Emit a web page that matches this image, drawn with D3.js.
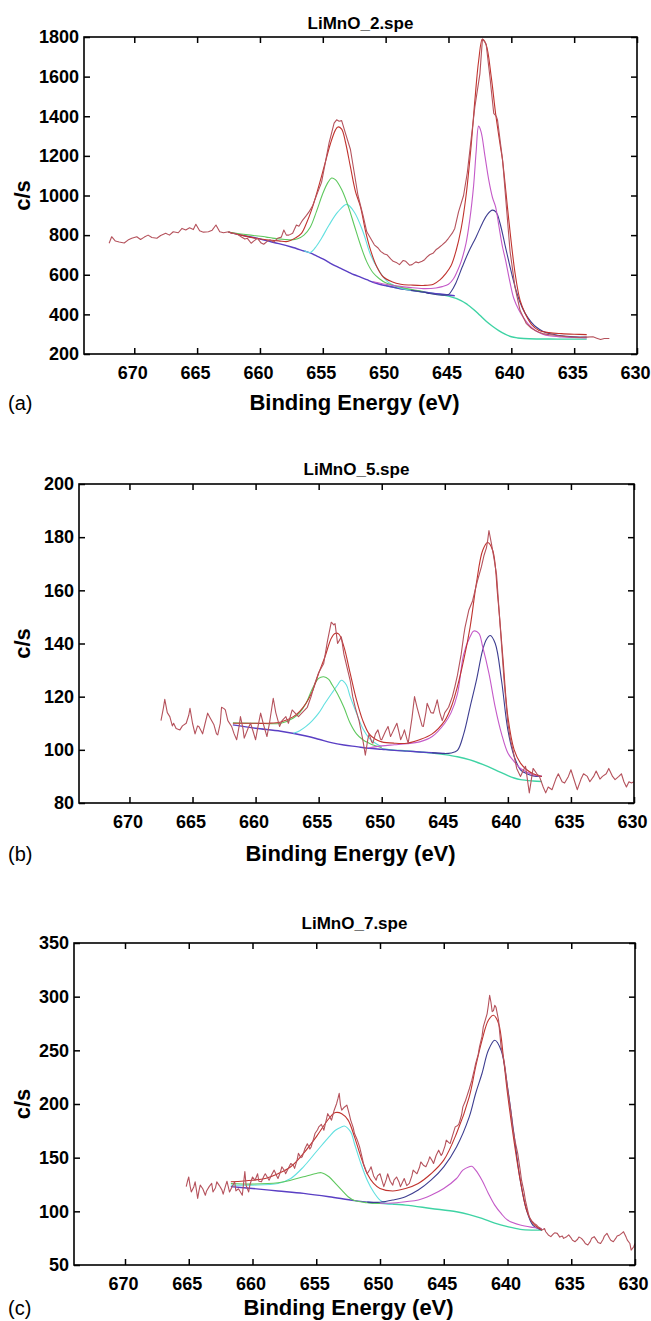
<!DOCTYPE html>
<html>
<head>
<meta charset="utf-8">
<script src="https://cdn.jsdelivr.net/npm/d3@7"></script>
<style>
  html, body { margin: 0; padding: 0; background: #fff; }
  svg { display: block; font-family: "Liberation Sans", Arial, sans-serif; }
</style>
</head>
<body>
<svg id="chart" width="651" height="1321"></svg>
<script>
// ---- data: [binding energy (eV), counts/s] ----

var xTicks = [670, 665, 660, 655, 650, 645, 640, 635, 630];
var yTicksA = [200, 400, 600, 800, 1000, 1200, 1400, 1600, 1800];
var yTicksB = [80, 100, 120, 140, 160, 180, 200];
var yTicksC = [50, 100, 150, 200, 250, 300, 350];

// (a) LiMnO_2
var rawA = [[672.0,759],[671.8,792],[671.5,770],[671.2,765],[670.8,760],[670.5,775],[670.2,784],[669.8,792],[669.5,778],[669.2,790],[668.9,800],[668.6,788],[668.2,784],[667.9,798],[667.5,809],[667.2,800],[666.9,817],[666.5,812],[666.2,834],[665.9,826],[665.6,837],[665.3,828],[665.1,855],[664.8,822],[664.5,815],[664.1,817],[663.8,825],[663.5,851],[663.2,817],[662.9,812],[662.5,817],[662.2,808],[662.0,809],[661.7,800],[661.5,792],[661.2,780],[661.0,784],[660.7,759],[660.5,770],[660.2,784],[659.9,760],[659.7,754],[659.4,770],[659.2,776],[658.9,765],[658.6,784],[658.3,790],[658.1,826],[657.9,800],[657.7,800],[657.4,809],[657.1,851],[656.9,845],[656.6,876],[656.3,900],[656.1,917],[655.8,950],[655.4,1017],[655.1,1066],[654.8,1166],[654.5,1266],[654.1,1365],[653.9,1382],[653.7,1375],[653.5,1378],[653.2,1315],[652.8,1232],[652.5,1116],[652.2,1000],[651.8,900],[651.5,817],[651.2,784],[650.9,751],[650.6,735],[650.4,718],[650.1,705],[649.9,701],[649.6,680],[649.4,668],[649.1,660],[648.9,651],[648.6,672],[648.4,668],[648.1,648],[647.9,651],[647.6,665],[647.4,660],[647.1,668],[646.9,676],[646.7,690],[646.5,701],[646.2,710],[646.0,726],[645.8,735],[645.5,751],[645.2,768],[645.0,784],[644.7,810],[644.5,834],[644.2,917],[643.8,1000],[643.5,1116],[643.2,1282],[642.9,1448],[642.5,1614],[642.3,1788],[642.1,1775],[642.0,1763],[641.7,1597],[641.4,1415],[641.2,1400],[641.1,1382],[640.7,1183],[640.4,950],[640.1,718],[639.7,535],[639.3,419],[638.8,353],[638.4,330],[638.1,319],[637.8,310],[637.5,303],[637.0,298],[636.5,295],[636.0,290],[635.5,287],[635.0,285],[634.5,283],[634.0,285],[633.5,287],[633.2,280],[632.9,273],[632.6,278],[632.2,278]];
var envA = [[662.5,815],[661.5,800],[660.5,786],[659.5,777],[658.5,771],[657.8,768],[657.2,785],[656.7,809],[656.3,860],[655.9,926],[655.4,1030],[654.9,1144],[654.4,1260],[654.0,1330],[653.8,1346],[653.5,1335],[653.2,1270],[652.8,1144],[652.4,1020],[652.0,943],[651.6,820],[651.2,724],[650.7,640],[650.2,590],[649.5,565],[648.8,552],[648.0,548],[647.0,546],[646.2,552],[645.7,573],[645.2,607],[644.8,645],[644.4,720],[644.0,830],[643.6,1000],[643.2,1250],[642.9,1480],[642.6,1680],[642.3,1790],[642.0,1760],[641.6,1600],[641.25,1414],[640.9,1260],[640.7,1178],[640.2,876],[639.7,607],[639.3,470],[638.9,405],[638.4,350],[637.8,319],[637.0,308],[636.0,303],[635.0,300],[634.0,298]];
var bgA = [[662.5,815],[661.5,800],[660.5,788],[659.5,772],[658.5,757],[657.5,740],[656.5,720],[656.0,710],[655.5,695],[655.0,680],[654.5,662],[654.0,645],[653.5,630],[653.0,615],[652.5,600],[652.0,588],[651.5,575],[651.0,562],[650.5,552],[650.0,545],[649.0,532],[648.0,522],[647.0,513],[646.0,505],[645.0,498],[644.5,494]];
var bgLowA = [[650.0,545],[649.0,532],[648.0,522],[647.0,513],[646.0,503],[645.0,492],[644.0,470],[643.5,450],[643.0,425],[642.5,395],[642.0,365],[641.5,340],[641.0,318],[640.5,300],[640.0,287],[639.5,281],[639.0,278],[638.0,276],[637.0,276],[636.0,275],[635.0,275],[634.0,275]];
var navyA = [[648.0,522],[647.0,513],[646.5,505],[646.0,500],[645.5,497],[645.0,500],[644.8,514],[644.4,560],[643.9,640],[643.4,715],[642.8,791],[642.3,860],[641.9,905],[641.5,926],[641.2,915],[640.9,860],[640.5,750],[640.1,640],[639.7,539],[639.3,460],[638.9,405],[638.4,360],[638.0,335],[637.5,315],[637.0,303],[636.0,292],[635.0,287],[634.0,285]];
var magA = [[651.0,565],[650.0,552],[649.0,543],[648.0,535],[647.0,530],[646.0,533],[645.5,540],[645.0,552],[644.6,580],[644.3,618],[644.0,665],[643.6,760],[643.3,880],[643.0,1050],[642.8,1220],[642.6,1350],[642.4,1320],[642.1,1200],[641.8,1080],[641.5,990],[641.25,943],[641.0,850],[640.7,740],[640.46,674],[640.1,560],[639.8,480],[639.4,422],[639.0,380],[638.5,340],[638.0,315],[637.5,300],[637.0,292],[636.0,286],[635.0,283],[634.0,281]];
var greenA = [[662.5,815],[661.5,806],[660.5,798],[659.5,790],[659.0,785],[658.0,778],[657.5,776],[657.0,782],[656.5,800],[656.0,840],[655.5,920],[655.0,1010],[654.6,1065],[654.3,1088],[654.0,1080],[653.5,1030],[653.0,950],[652.5,850],[652.0,750],[651.5,665],[651.0,610],[650.5,580],[650.0,560],[649.0,540],[648.0,526],[647.0,515]];
var cyanA = [[656.5,722],[656.0,712],[655.5,745],[655.1,784],[654.5,851],[653.8,917],[653.1,955],[652.5,917],[651.8,817],[651.2,701],[650.5,618],[649.9,568],[649.4,548],[648.9,535],[648.0,522]];

// (b) LiMnO_5
var rawB = [[667.5,111],[667.3,116],[667.2,119],[667.0,114],[666.8,112.5],[666.6,109],[666.5,110],[666.3,108],[666.0,107.5],[665.8,109],[665.5,110],[665.3,113],[665.2,115.6],[665.0,110],[664.8,106],[664.6,109],[664.5,108.8],[664.3,107],[664.2,106],[664.0,110],[663.8,113.8],[663.6,112],[663.3,109.4],[663.1,106],[663.0,105.6],[662.8,110],[662.7,116],[662.5,115.5],[662.4,115],[662.2,111],[661.9,108.8],[661.7,106],[661.5,103.8],[661.3,109],[661.2,112.5],[661.0,108],[660.9,104.4],[660.6,108],[660.4,110],[660.2,107],[660.0,103.8],[659.8,109],[659.6,113.8],[659.4,110],[659.1,105],[658.9,110],[658.6,119.4],[658.4,114],[658.1,108.8],[657.9,111],[657.6,112.5],[657.4,110],[657.1,115],[656.9,114],[656.6,112.5],[656.3,114],[655.9,116],[655.6,120],[655.3,125],[655.0,129],[654.6,132.5],[654.3,141],[654.0,148],[653.8,147],[653.7,147.5],[653.5,140],[653.2,142.5],[653.0,136],[652.7,130],[652.5,126],[652.3,120],[652.1,116],[651.8,111],[651.5,103.8],[651.3,98],[651.1,104],[651.0,106],[650.8,103],[650.7,102.5],[650.5,106],[650.3,107.5],[650.1,104],[650.0,103.8],[649.7,107],[649.5,108.8],[649.3,105],[649.2,106],[649.0,108],[648.8,110],[648.6,106],[648.5,103.8],[648.3,106],[648.2,107.5],[648.0,104],[647.9,102.5],[647.6,112],[647.4,120],[647.2,116],[647.0,112.5],[646.8,109],[646.7,108.8],[646.5,114],[646.4,117.5],[646.1,114],[645.9,113.8],[645.7,117],[645.6,118.8],[645.4,114],[645.2,111],[645.0,114],[644.7,116],[644.4,120],[644.2,123.8],[644.0,128],[643.7,136],[643.5,143],[643.4,146],[643.1,152.5],[642.8,156],[642.6,160],[642.4,163.8],[642.1,168.8],[641.9,173],[641.7,176],[641.6,178.8],[641.5,182.5],[641.3,177.5],[641.1,172],[640.9,166],[640.6,146],[640.3,126],[640.0,110],[639.8,104],[639.6,100],[639.3,93],[639.0,90],[638.8,92],[638.6,93.8],[638.3,83.8],[638.1,90],[638.0,93],[637.7,91],[637.5,90],[637.2,86],[637.0,83.8],[636.8,86],[636.5,85],[636.2,89],[636.0,91],[635.7,88],[635.5,87.5],[635.2,90],[635.0,92.5],[634.7,88],[634.5,85],[634.2,89],[634.0,91],[633.7,90],[633.5,88],[633.2,90],[633.0,92],[632.7,89],[632.5,90],[632.2,91],[632.0,93],[631.7,90],[631.5,88.8],[631.2,90],[631.0,91],[630.8,88],[630.6,86],[630.4,88],[630.2,87.5],[630.0,88]];
var envB = [[661.8,110],[660.5,110],[659.0,110],[658.0,110.5],[657.0,112.5],[656.5,114.5],[656.0,117.5],[655.5,122],[655.0,128.8],[654.5,135],[654.0,142],[653.7,143.8],[653.4,143.5],[653.0,138.8],[652.5,128.8],[652.0,118.8],[651.5,111],[651.0,106],[650.5,104],[650.0,103],[649.0,102.5],[648.0,102.5],[647.0,103.8],[646.0,106],[645.0,111],[644.5,116],[644.0,123.8],[643.5,133.8],[643.0,146],[642.5,162.5],[642.0,175],[641.6,178],[641.2,175],[640.8,157.5],[640.4,135],[640.0,112.5],[639.5,100],[639.0,95],[638.5,92.5],[638.0,91],[637.3,90]];
var bgB = [[661.8,109.4],[660.0,108.1],[658.0,107],[656.0,105.2],[655.0,104],[654.0,102.7],[653.0,101.8],[652.0,101.2],[651.0,100.6],[650.0,100.2],[649.0,99.8],[648.0,99.5],[647.0,99.2],[646.0,98.9],[645.0,98.6]];
var bgLowB = [[650.0,100.3],[649.0,99.9],[648.0,99.6],[647.0,99.2],[646.0,98.8],[645.0,98.2],[644.0,97.4],[643.0,96.2],[642.0,94.5],[641.0,92.5],[640.0,90.3],[639.5,89.4],[639.0,88.8],[638.0,88.3],[637.3,88.1]];
var navyB = [[646.0,98.9],[645.0,98.6],[644.5,98.8],[644.0,99.8],[643.5,106],[643.0,116],[642.5,126],[642.0,137.5],[641.7,141.5],[641.4,143],[641.0,140],[640.5,126],[640.0,107.5],[639.5,97.5],[639.0,92.5],[638.5,91],[638.0,90.2],[637.3,90]];
var magB = [[651.0,100.8],[650.0,101.5],[649.0,101.9],[648.0,102.3],[647.0,103],[646.0,105],[645.0,110],[644.5,114],[644.0,121],[643.5,136],[643.0,142.5],[642.7,144.7],[642.3,143.8],[642.0,138.8],[641.5,128.8],[641.0,116],[640.5,106],[640.0,98.8],[639.5,95.6],[639.0,93],[638.0,90.6],[637.3,90]];
var greenB = [[661.8,110.2],[660.0,110],[658.0,110],[657.0,112],[656.5,114],[656.0,117.5],[655.5,123],[655.0,126.9],[654.6,127.5],[654.2,126.5],[654.0,125],[653.5,121],[653.0,116],[652.5,110],[652.0,106],[651.5,103.8],[651.0,102.5],[650.5,101.5],[650.0,100.8]];
var cyanB = [[657.0,106.2],[656.5,107.2],[656.0,108.8],[655.5,111],[655.0,113.8],[654.5,117.5],[654.0,121],[653.5,124.4],[653.2,126.2],[652.8,124.4],[652.5,120],[652.0,113.8],[651.5,108],[651.0,104.4],[650.5,102.5],[650.0,101.2]];

// (c) LiMnO_7
var rawC = [[665.2,123],[665.1,128],[665.0,132],[664.9,124],[664.8,118],[664.6,123],[664.5,127.5],[664.4,120],[664.3,112],[664.2,119],[664.1,124.4],[663.9,121],[663.7,115],[663.6,119],[663.4,123],[663.2,126],[663.1,118],[662.9,122],[662.8,127.5],[662.6,124],[662.4,120],[662.3,116],[662.1,124.4],[662.0,128],[661.8,118],[661.6,123],[661.4,127.5],[661.3,119],[661.1,121],[660.9,117],[660.8,115],[660.7,126],[660.6,137],[660.5,124],[660.3,118],[660.2,125],[660.0,132],[659.8,129],[659.6,135],[659.5,128],[659.3,127.5],[659.1,133],[659.0,135],[658.8,131],[658.7,129],[658.5,134],[658.3,138.4],[658.1,133],[658.0,130.6],[657.8,137],[657.7,141.5],[657.5,138],[657.4,135],[657.2,140],[657.0,144.6],[656.8,143],[656.7,140],[656.5,148],[656.4,154],[656.2,150],[656.1,150.8],[655.9,158],[655.7,163],[655.5,158],[655.4,160],[655.2,168],[655.1,172.5],[654.9,176],[654.8,178.7],[654.6,181],[654.4,175.6],[654.2,186],[654.1,191],[653.9,187],[653.8,185],[653.6,194],[653.4,200.5],[653.3,205],[653.2,210],[653.1,199],[653.0,194.3],[652.8,197],[652.6,199],[652.4,190],[652.3,185],[652.1,178],[652.0,172.5],[651.8,167],[651.6,160],[651.4,150],[651.3,144.6],[651.1,138],[651.0,135],[650.8,139],[650.7,141.5],[650.5,133],[650.3,129],[650.2,133],[650.0,135],[649.8,127],[649.7,123],[649.5,130],[649.4,135],[649.2,128],[649.0,124.4],[648.9,129],[648.7,132],[648.5,127],[648.4,123],[648.2,128],[648.1,130.6],[647.9,124],[647.7,126],[647.5,133],[647.4,138.4],[647.2,136],[647.1,135],[646.9,141],[646.8,146],[646.6,143],[646.4,141.5],[646.2,147],[646.1,150.8],[645.9,147],[645.8,144.6],[645.6,152],[645.4,157],[645.2,152],[645.1,154],[644.9,161],[644.8,166.3],[644.6,164],[644.5,163.2],[644.3,171],[644.1,178.7],[643.9,180],[643.8,181.8],[643.6,190],[643.5,197.3],[643.3,203],[643.2,206.7],[643.0,214],[642.8,222],[642.6,232],[642.5,237.7],[642.3,246],[642.2,253],[642.0,263],[641.9,271.8],[641.7,280],[641.6,284],[641.5,292],[641.4,301.3],[641.3,295],[641.2,286],[641.1,287],[641.0,292],[640.9,290],[640.8,284],[640.7,278],[640.6,265],[640.5,253],[640.3,242],[640.2,234.6],[640.0,215],[639.9,206.7],[639.7,190],[639.6,178.7],[639.4,165],[639.2,154],[639.0,138],[638.9,129],[638.7,118],[638.6,110.5],[638.4,100],[638.3,95],[638.1,91],[637.9,88.8],[637.7,87],[637.6,85.7],[637.4,84],[637.3,82.5],[637.1,84],[637.0,81],[636.8,78],[636.6,76.4],[636.4,79],[636.3,80],[636.1,79.5],[635.9,76],[635.7,77],[635.6,74.8],[635.4,76],[635.2,78],[635.0,75],[634.9,73],[634.7,71.7],[634.5,74],[634.4,76],[634.2,74.8],[634.0,72],[633.9,70],[633.7,68.6],[633.5,72],[633.4,75],[633.2,76.4],[633.0,73],[632.9,71],[632.7,70],[632.5,74],[632.4,77],[632.2,79.5],[632.0,75],[631.9,73],[631.7,71.7],[631.5,75],[631.4,77],[631.2,78],[631.0,80],[630.9,81],[630.7,76],[630.6,73.2],[630.4,70],[630.3,63.9],[630.1,67],[630.0,70]];
var envC = [[661.7,127.5],[660.0,129],[659.0,130.6],[658.0,135],[657.0,141.5],[656.0,154],[655.0,169.4],[654.0,186.5],[653.5,192],[653.0,191],[652.5,185],[652.0,169.4],[651.5,150.8],[651.0,135],[650.5,126],[650.0,121.3],[649.0,119],[648.0,121.3],[647.0,126],[646.0,135],[645.0,147.7],[644.0,172.5],[643.0,206.7],[642.5,234.6],[642.0,259.4],[641.5,278],[641.1,282.7],[640.7,275],[640.3,241],[640.0,209.8],[639.5,166.3],[639.0,129],[638.5,101],[638.0,88.8],[637.5,84],[637.3,82.5]];
var bgC = [[661.7,123],[660.0,121.3],[658.0,119],[656.0,116.7],[654.0,113.6],[652.0,110],[650.5,108]];
var bgLowC = [[651.0,108.5],[650.0,107.4],[648.0,105.8],[646.0,102.7],[644.0,99.6],[643.0,97],[642.0,93.4],[641.0,89],[640.0,85.7],[639.0,83.2],[638.0,82.5],[637.3,82.5]];
var navyC = [[651.0,108.5],[650.0,108.5],[649.0,110.5],[648.0,113.6],[647.0,119.8],[646.0,129],[645.0,141.5],[644.0,160],[643.0,188],[642.5,209.8],[642.0,228.4],[641.5,250],[641.0,259.4],[640.5,250],[640.0,216],[639.5,172.5],[639.0,129],[638.5,101],[638.0,87],[637.3,82.5]];
var magC = [[650.0,107.6],[649.0,107.8],[648.0,109],[647.0,110.5],[646.0,115],[645.0,121.3],[644.0,130.6],[643.5,138.4],[643.0,141.5],[642.8,142],[642.5,138.4],[642.0,129],[641.5,116.7],[641.0,105.8],[640.5,98],[640.0,91.9],[639.0,87.2],[638.0,85],[637.3,84]];
var cyanC = [[661.7,124.4],[660.0,124.4],[658.0,126],[657.0,130.6],[656.0,141.5],[655.0,155.5],[654.0,169.4],[653.5,175.6],[653.0,178.7],[652.8,179.5],[652.3,174],[652.0,163],[651.5,144.6],[651.0,129],[650.5,118],[650.0,110.5],[649.5,107.4],[649.0,106.6]];
var greenC = [[661.7,126],[660.0,125.4],[658.0,126.6],[657.0,129],[656.0,132.2],[655.0,135.3],[654.6,136],[654.0,132.2],[653.5,126],[653.0,119.8],[652.5,113.6],[652.0,110],[651.0,108],[650.0,107.4]];

// ---- styling / layout ----
var colors = {
  raw: '#b5525c', env: '#c0332e', bg: '#5a3fc4', bgLow: '#3fd3a4',
  navy: '#3d3d90', mag: '#c45ac8', green: '#5ec85e', cyan: '#62e0e0'
};
var xDomain = [674, 630];
var font = '"Liberation Sans", Arial, sans-serif';

var panels = [
  { tag: '(a)', title: 'LiMnO_2.spe', left: 84, right: 637, top: 37, bottom: 354, titleY: 29, labelY: 410,
    yDomain: [200, 1800], yTicks: yTicksA,
    lines: [['bgLow', bgLowA], ['bg', bgA], ['cyan', cyanA], ['green', greenA], ['navy', navyA], ['mag', magA], ['env', envA], ['raw', rawA]] },
  { tag: '(b)', title: 'LiMnO_5.spe', left: 79, right: 634, top: 484, bottom: 803, titleY: 475, labelY: 861,
    yDomain: [80, 200], yTicks: yTicksB,
    lines: [['bgLow', bgLowB], ['bg', bgB], ['cyan', cyanB], ['green', greenB], ['navy', navyB], ['mag', magB], ['env', envB], ['raw', rawB]] },
  { tag: '(c)', title: 'LiMnO_7.spe', left: 74, right: 635, top: 943, bottom: 1265, titleY: 929, labelY: 1315,
    yDomain: [50, 350], yTicks: yTicksC,
    lines: [['bgLow', bgLowC], ['bg', bgC], ['cyan', cyanC], ['green', greenC], ['navy', navyC], ['mag', magC], ['env', envC], ['raw', rawC]] }
];

var svg = d3.select('#chart');

function styleAxis(g) {
  g.select('.domain').remove();
  g.selectAll('.tick line').attr('stroke', '#000').attr('stroke-width', 1.5);
  g.selectAll('text')
    .attr('fill', '#000')
    .style('font-family', font)
    .style('font-size', '18px')
    .style('font-weight', 'bold');
}

function drawPanel(p, i) {
  var x = d3.scaleLinear().domain(xDomain).range([p.left, p.right]);
  var y = d3.scaleLinear().domain(p.yDomain).range([p.bottom, p.top]);
  var g = svg.append('g').attr('class', 'panel');

  var clipId = 'clip' + i;
  g.append('clipPath').attr('id', clipId)
    .append('rect')
      .attr('x', p.left).attr('y', p.top)
      .attr('width', p.right - p.left).attr('height', p.bottom - p.top);

  // ticks point inward on all four sides
  g.append('g').attr('transform', 'translate(0,' + p.bottom + ')')
    .call(d3.axisBottom(x).tickValues(xTicks).tickSize(-6).tickPadding(12).tickFormat(d3.format('d')))
    .call(styleAxis)
    .selectAll('text').attr('dx', -2);
  g.append('g').attr('transform', 'translate(0,' + p.top + ')')
    .call(d3.axisTop(x).tickValues(xTicks).tickSize(-6).tickFormat(''))
    .call(styleAxis);
  g.append('g').attr('transform', 'translate(' + p.left + ',0)')
    .call(d3.axisLeft(y).tickValues(p.yTicks).tickSize(-6).tickPadding(5).tickFormat(d3.format('d')))
    .call(styleAxis);
  g.append('g').attr('transform', 'translate(' + p.right + ',0)')
    .call(d3.axisRight(y).tickValues(p.yTicks).tickSize(-6).tickFormat(''))
    .call(styleAxis);

  var smooth = d3.line()
    .x(function(d) { return x(d[0]); })
    .y(function(d) { return y(d[1]); })
    .curve(d3.curveCatmullRom.alpha(0.5));
  var jagged = d3.line()
    .x(function(d) { return x(d[0]); })
    .y(function(d) { return y(d[1]); });

  var plot = g.append('g').attr('clip-path', 'url(#' + clipId + ')');
  p.lines.forEach(function(s) {
    plot.append('path')
      .datum(s[1])
      .attr('fill', 'none')
      .attr('stroke', colors[s[0]])
      .attr('stroke-width', s[0] === 'bgLow' || s[0] === 'bg' ? 1.4 : 1.1)
      .attr('stroke-linejoin', 'round')
      .attr('d', s[0] === 'raw' ? jagged : smooth);
  });

  // frame
  g.append('rect')
    .attr('x', p.left).attr('y', p.top)
    .attr('width', p.right - p.left).attr('height', p.bottom - p.top)
    .attr('fill', 'none').attr('stroke', '#000').attr('stroke-width', 1.6);

  g.append('text')
    .attr('x', (p.left + p.right) / 2).attr('y', p.titleY)
    .attr('text-anchor', 'middle')
    .style('font-family', font).style('font-size', '17px').style('font-weight', 'bold')
    .text(p.title);

  g.append('text')
    .attr('x', (p.left + p.right) / 2 - 6).attr('y', p.labelY)
    .attr('text-anchor', 'middle')
    .style('font-family', font).style('font-size', '22px').style('font-weight', 'bold')
    .text('Binding Energy (eV)');

  g.append('text')
    .attr('transform', 'translate(30,' + ((p.top + p.bottom) / 2) + ') rotate(-90)')
    .attr('text-anchor', 'middle')
    .style('font-family', font).style('font-size', '22px').style('font-weight', 'bold')
    .text('c/s');

  g.append('text')
    .attr('x', 8).attr('y', p.labelY)
    .style('font-family', font).style('font-size', '20px')
    .text(p.tag);
}

panels.forEach(drawPanel);
</script>
</body>
</html>
